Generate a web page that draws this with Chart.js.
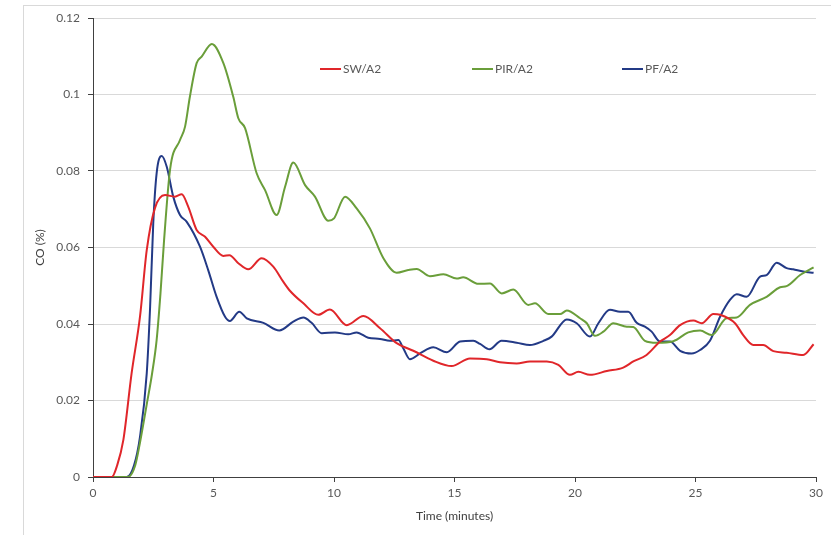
<!DOCTYPE html>
<html>
<head>
<meta charset="utf-8">
<script src="https://cdn.jsdelivr.net/npm/chart.js@4"></script>
<style>
  html, body { margin: 0; padding: 0; background: #fff; }
  #wrap { width: 831px; height: 535px; position: relative; }
</style>
</head>
<body>
<div id="wrap"><canvas id="coChart" width="831" height="535"></canvas></div>
<script>
// time (minutes) and CO (%)
const swTime = [0, 0.78, 1.0, 1.26, 1.6, 1.95, 2.23, 2.57, 2.99, 3.4, 3.68, 3.95, 4.3, 4.65, 4.99, 5.41, 5.66, 6.03, 6.44, 7.0, 7.48, 7.9, 8.17, 8.73, 9.35, 9.83, 10.53, 11.22, 11.91, 12.6, 13.29, 14.12, 14.88, 15.64, 16.34, 16.89, 17.58, 18.13, 18.83, 19.31, 19.79, 20.14, 20.62, 21.32, 22.0, 22.42, 22.97, 23.53, 23.94, 24.36, 24.91, 25.26, 25.74, 26.02, 26.64, 26.98, 27.4, 27.81, 28.23, 28.78, 29.47, 29.9]
const swCO = [0, 0, 0.003, 0.0097, 0.027, 0.0419, 0.0593, 0.0703, 0.0737, 0.0733, 0.0739, 0.0707, 0.0646, 0.0628, 0.0602, 0.0578, 0.058, 0.0559, 0.0543, 0.0572, 0.055, 0.051, 0.0487, 0.0454, 0.0424, 0.0438, 0.0397, 0.0421, 0.0389, 0.035, 0.033, 0.0304, 0.029, 0.031, 0.0308, 0.03, 0.0297, 0.0302, 0.0302, 0.0293, 0.0267, 0.0275, 0.0267, 0.0277, 0.0286, 0.0302, 0.0319, 0.0354, 0.0371, 0.0397, 0.0409, 0.0402, 0.0426, 0.0424, 0.0402, 0.0371, 0.0345, 0.0345, 0.0329, 0.0325, 0.0319, 0.0347]

const pirTime = [0, 1.45, 1.75, 1.95, 2.23, 2.45, 2.64, 2.8, 2.95, 3.2, 3.61, 3.82, 4.02, 4.3, 4.51, 4.93, 5.41, 5.82, 6.03, 6.31, 6.79, 7.14, 7.62, 7.97, 8.31, 8.8, 9.21, 9.76, 10.0, 10.46, 10.94, 11.49, 12.05, 12.6, 13.08, 13.43, 13.98, 14.54, 15.09, 15.36, 15.99, 16.47, 16.96, 17.44, 18.06, 18.34, 18.89, 19.38, 19.66, 20.21, 20.49, 20.83, 21.18, 21.59, 22.15, 22.42, 22.9, 23.39, 24.08, 24.7, 25.19, 25.67, 26.29, 26.71, 27.26, 27.95, 28.51, 28.78, 29.34, 29.9]
const pirCO = [0, 0, 0.003, 0.009, 0.019, 0.027, 0.0358, 0.048, 0.062, 0.0805, 0.0881, 0.0916, 0.0994, 0.1082, 0.1099, 0.1132, 0.1082, 0.0994, 0.0938, 0.0912, 0.0794, 0.075, 0.0685, 0.0759, 0.0822, 0.0763, 0.0733, 0.067, 0.0676, 0.0733, 0.0702, 0.065, 0.0572, 0.0534, 0.0541, 0.0544, 0.0525, 0.053, 0.0519, 0.0522, 0.0505, 0.0506, 0.048, 0.049, 0.045, 0.0454, 0.0426, 0.0426, 0.0435, 0.0415, 0.0402, 0.0369, 0.038, 0.0402, 0.0393, 0.0392, 0.0356, 0.0351, 0.0355, 0.0378, 0.0383, 0.0371, 0.0415, 0.0417, 0.045, 0.0471, 0.0496, 0.0499, 0.0528, 0.0548]

const pfTime = [0, 1.4, 1.7, 1.95, 2.23, 2.37, 2.5, 2.64, 2.85, 3.06, 3.33, 3.61, 3.89, 4.44, 4.78, 5.13, 5.48, 5.68, 6.07, 6.38, 7.07, 7.73, 8.31, 8.73, 9.07, 9.49, 10.04, 10.59, 10.94, 11.42, 11.91, 12.32, 12.67, 12.88, 13.15, 13.57, 14.12, 14.68, 15.23, 15.78, 16.06, 16.45, 16.95, 17.58, 18.13, 18.69, 19.03, 19.66, 20.07, 20.62, 20.97, 21.45, 21.87, 22.21, 22.56, 22.9, 23.18, 23.53, 23.94, 24.36, 24.84, 25.19, 25.6, 26.02, 26.43, 26.71, 27.12, 27.68, 27.95, 28.37, 28.78, 29.05, 29.47, 29.9]
const pfCO = [0, 0, 0.003, 0.0105, 0.0271, 0.0445, 0.0663, 0.0794, 0.0839, 0.0811, 0.0733, 0.0685, 0.0667, 0.0602, 0.0541, 0.0471, 0.0419, 0.0408, 0.0432, 0.0415, 0.0403, 0.0383, 0.0406, 0.0417, 0.0403, 0.0376, 0.0378, 0.0373, 0.0378, 0.0364, 0.0361, 0.0356, 0.0358, 0.0336, 0.0308, 0.0323, 0.0339, 0.0326, 0.0354, 0.0356, 0.0348, 0.0334, 0.0356, 0.0351, 0.0345, 0.0356, 0.0367, 0.0412, 0.0402, 0.0367, 0.0402, 0.0437, 0.0432, 0.0432, 0.0403, 0.0393, 0.038, 0.0354, 0.0354, 0.033, 0.0323, 0.0332, 0.0356, 0.0419, 0.0463, 0.0478, 0.0471, 0.0524, 0.0528, 0.056, 0.0546, 0.0543, 0.0537, 0.0534]

const seriesNames = ['SW/A2', 'PIR/A2', 'PF/A2']
const xTicks = [0, 5, 10, 15, 20, 25, 30]
const yTicks = [0, 0.02, 0.04, 0.06, 0.08, 0.1, 0.12]

const textColor = '#595959'
const axisColor = '#404040'
const fontName = 'Lato, "Open Sans", sans-serif'

const toPoints = (xs, ys) => xs.map((t, i) => ({ x: t, y: ys[i] }))

// legend sits inside the plot area in the original
const insideLegend = {
    id: 'insideLegend',
    afterDatasetsDraw(chart) {
        const ctx = chart.ctx
        const spots = [320, 472, 622]
        const y = 69
        ctx.save()
        ctx.font = '12px ' + fontName
        ctx.textBaseline = 'middle'
        chart.data.datasets.forEach((ds, i) => {
            ctx.strokeStyle = ds.borderColor
            ctx.lineWidth = 2
            ctx.beginPath()
            ctx.moveTo(spots[i], y)
            ctx.lineTo(spots[i] + 21, y)
            ctx.stroke()
            ctx.fillStyle = textColor
            ctx.fillText(ds.label, spots[i] + 23, y + 0.5)
        })
        ctx.restore()
    }
}

const frame = {
    id: 'frame',
    beforeDraw(chart) {
        const ctx = chart.ctx
        ctx.save()
        ctx.strokeStyle = '#d9d9d9'
        ctx.lineWidth = 1
        ctx.strokeRect(23.5, 5.5, 900, 600)
        ctx.restore()
    }
}

new Chart(document.getElementById('coChart'), {
    type: 'line',
    data: {
        datasets: [
            { label: seriesNames[0], data: toPoints(swTime, swCO), borderColor: '#e0262a' },
            { label: seriesNames[1], data: toPoints(pirTime, pirCO), borderColor: '#6a9e3a' },
            { label: seriesNames[2], data: toPoints(pfTime, pfCO), borderColor: '#233a86' }
        ]
    },
    options: {
        responsive: false,
        animation: false,
        layout: { padding: { top: 18, right: 15, left: 0, bottom: 0 } },
        elements: {
            point: { radius: 0 },
            line: { borderWidth: 2, cubicInterpolationMode: 'monotone' }
        },
        plugins: {
            legend: { display: false },
            tooltip: { enabled: false }
        },
        scales: {
            x: {
                type: 'linear',
                min: 0,
                max: 30,
                afterBuildTicks: (scale) => { scale.ticks = xTicks.map(v => ({ value: v })) },
                afterFit: (scale) => { scale.height = 58 },
                grid: { drawOnChartArea: false, tickColor: axisColor, tickLength: 5 },
                border: { color: axisColor, width: 1 },
                ticks: { color: textColor, font: { family: fontName, size: 12 }, padding: 4, maxRotation: 0 },
                title: {
                    display: true,
                    text: 'Time (minutes)',
                    color: '#404040',
                    font: { family: fontName, size: 12 },
                    padding: { top: 0, bottom: 12 }
                }
            },
            y: {
                min: 0,
                max: 0.12,
                afterBuildTicks: (scale) => { scale.ticks = yTicks.map(v => ({ value: v })) },
                afterFit: (scale) => { scale.width = 93 },
                grid: { color: '#d9d9d9', tickColor: axisColor, tickLength: 5 },
                border: { color: axisColor, width: 1 },
                ticks: {
                    color: textColor,
                    font: { family: fontName, size: 12 },
                    padding: 8,
                    callback: (v) => String(Number(v.toFixed(2)))
                },
                title: {
                    display: true,
                    text: 'CO (%)',
                    color: '#404040',
                    font: { family: fontName, size: 12 },
                    padding: { top: 33, bottom: 0 }
                }
            }
        }
    },
    plugins: [frame, insideLegend]
})
</script>
</body>
</html>
